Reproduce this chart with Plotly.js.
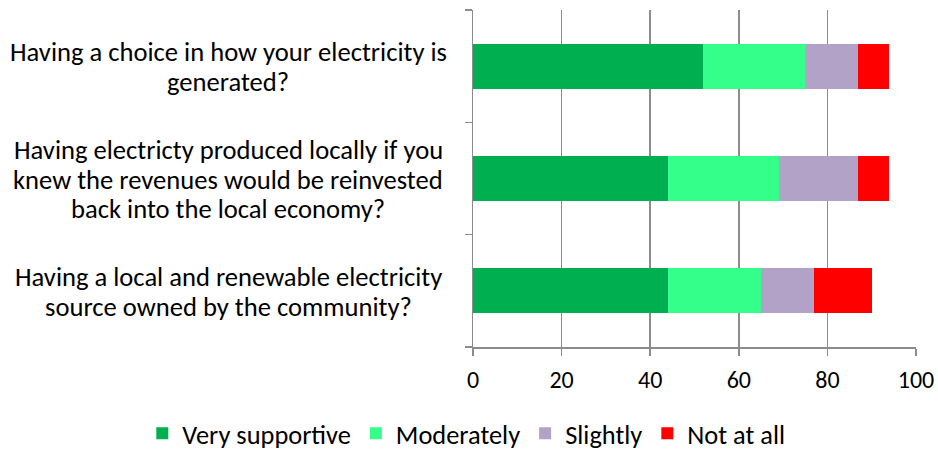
<!DOCTYPE html>
<html><head><meta charset="utf-8">
<script src="https://cdn.plot.ly/plotly-3.0.1.min.js"></script>
<style>body{margin:0;background:#fff}#chart{width:938px;height:452px}</style>
</head><body><div id="chart"></div>
<script>
const categories = [
  ["Having a choice in how your electricity is", "generated?"],
  ["Having electricty produced locally if you", "knew the revenues would be reinvested", "back into the local economy?"],
  ["Having a local and renewable electricity", "source owned by the community?"]
];
const seriesNames = ["Very supportive", "Moderately", "Slightly", "Not at all"];
const verySupportive = [52, 44, 44];
const moderately = [23, 25, 21];
const slightly = [12, 18, 12];
const notAtAll = [7, 7, 13];
const xTicks = [0, 20, 40, 60, 80, 100];
const colors = ["#00B050", "#35FF8B", "#B2A2C7", "#FF0000"];
const values = [verySupportive, moderately, slightly, notAtAll];

const FONT = "Carlito, Calibri, 'Open Sans', sans-serif";
const ids = categories.map((c, i) => "c" + i);
const LINE = 29.5;

const traces = seriesNames.map((name, k) => ({
  type: "bar", orientation: "h", name: name,
  y: ids, x: values[k],
  marker: {color: colors[k], line: {width: 0}},
  hoverinfo: "x+name"
}));

const annotations = [];
categories.forEach((lines, i) => {
  lines.forEach((t, j) => {
    annotations.push({
      xref: "paper", yref: "y", x: -0.553, y: ids[i],
      text: t, showarrow: false, xanchor: "center", yanchor: "middle",
      yshift: ((lines.length - 1) / 2 - j) * LINE - 1,
      font: {family: FONT, size: 26.6, color: "#000"}
    });
  });
});

const layout = {
  width: 938, height: 452,
  margin: {l: 473, r: 22, t: 10, b: 105, autoexpand: false},
  barmode: "stack", bargap: 0.6,
  paper_bgcolor: "#fff", plot_bgcolor: "#fff",
  showlegend: true,
  legend: {orientation: "h", xref: "paper", x: -0.7465, xanchor: "left", yref: "paper", y: -0.186, yanchor: "top",
    font: {family: FONT, size: 26.4, color: "#000"}, traceorder: "normal", itemwidth: 30, tracegroupgap: 0},
  xaxis: {range: [0, 100], tickvals: xTicks, ticktext: xTicks.map(String),
    showgrid: true, gridcolor: "#8c8c8c", gridwidth: 1.5,
    showline: true, linecolor: "#8c8c8c", linewidth: 1.5,
    ticks: "outside", ticklen: 7, tickcolor: "#8c8c8c", tickwidth: 1.5,
    ticklabelstandoff: 4,
    tickfont: {family: FONT, size: 24, color: "#000"}, zeroline: false, fixedrange: true},
  yaxis: {type: "category", categoryorder: "array", categoryarray: ids.slice().reverse(),
    showticklabels: false, showgrid: false,
    showline: true, linecolor: "#8c8c8c", linewidth: 1.5,
    ticks: "outside", tickson: "boundaries", ticklen: 7, tickcolor: "#8c8c8c", tickwidth: 1.5,
    zeroline: false, fixedrange: true},
  annotations: annotations
};

Plotly.newPlot("chart", traces, layout, {displayModeBar: false, staticPlot: true});
</script></body></html>
